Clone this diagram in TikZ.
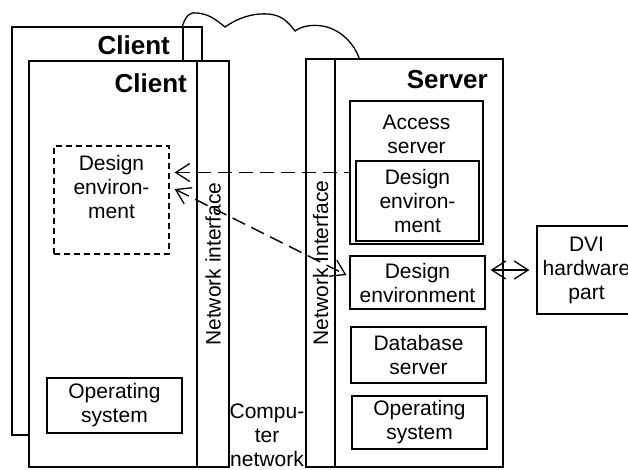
\documentclass[tikz,border=0pt]{standalone}
\usepackage{fontspec}
\setmainfont{Liberation Sans}
\usetikzlibrary{arrows.meta}

\tikzset{
  frame/.style={draw, fill=white, line width=1.5pt, inner sep=0pt},
  part/.style={draw, line width=1.2pt, inner sep=0pt, align=center},
  txt/.style={inner sep=0pt, align=center},
  title/.style={inner sep=0pt, anchor=base east, font=\fontsize{26}{30}\selectfont\bfseries},
  link/.style={line width=1.4pt, dash pattern=on 14pt off 7pt},
  barb/.tip={Straight Barb[length=14pt,width=18pt,line width=1.3pt]}
}

\begin{document}
\begin{tikzpicture}[x=1pt, y=-1pt, font=\fontsize{21}{24}\selectfont]
\useasboundingbox (0,0) rectangle (628,469);
% Clients
\node[frame, minimum width=171pt, minimum height=408pt] (bclient) at (97.5,231) {};
\node[frame, minimum width=19pt, minimum height=408pt] (bstrip) at (192.5,231) {};
\node[title] (bct) at (170,54) {Client};
\node[frame, minimum width=168pt, minimum height=406pt] (client) at (113,264) {};
\node[frame, rotate=90, minimum width=406pt, minimum height=32pt] (cstrip) at (213,264) {Network interface};
\node[title] (cct) at (187,92) {Client};
\node[part, line width=1.2pt, dash pattern=on 6pt off 4pt, minimum width=115pt, minimum height=108pt,
  label={[txt, yshift=13.5pt]center:{Design\\environ-\\ment}}] (cdes) at (111.5,200) {};
\node[part, minimum width=135pt, minimum height=55pt] (cos) at (114.5,405.5) {Operating\\system};
% Server
\node[frame, rotate=90, minimum width=408pt, minimum height=29pt] (sstrip) at (320.5,263) {Network Interface};
\node[frame, minimum width=168pt, minimum height=408pt] (srv) at (419,263) {};
\node[title] (svt) at (488,88) {Server};
\node[part, minimum width=133pt, minimum height=143pt,
  label={[txt, yshift=38pt]center:{Access\\server}}] (acc) at (416.5,172.5) {};
\node[part, minimum width=123pt, minimum height=80pt] (sde1) at (417.5,201) {Design\\environ-\\ment};
\node[part, minimum width=135pt, minimum height=53pt] (sde2) at (417.5,282.5) {Design\\environment};
\node[part, minimum width=135pt, minimum height=56pt] (dbs) at (418.5,355) {Database\\server};
\node[part, minimum width=135pt, minimum height=53pt] (sos) at (419.5,422.5) {Operating\\system};
% Hardware and network
\node[part, minimum width=99pt, minimum height=88pt] (dvi) at (586.5,270) {DVI\\hardware\\part};
\node[txt] (cnw) at (267,435) {Compu-\\ter\\network};
% Links
\draw[link, barb-, shorten <=5pt] (cdes.east |- acc.west) -- (acc.west);
\draw[link, barb-barb] ([xshift=5pt,yshift=11pt]cdes.east) -- ([xshift=-3pt,yshift=7.5pt]sde2.west);
\draw[line width=1.3pt, barb-barb, shorten <=5pt, shorten >=7pt] (sde2.east |- dvi.west) -- (dvi.west);
\draw[line width=1.3pt] (bstrip.north west) .. controls (186,16) and (189,12) .. (197,13)
  .. controls (207,14) and (213,17) .. (225,27) .. controls (238,18) and (252,13) .. (268,14)
  .. controls (282,15) and (288,22) .. (295,31) .. controls (303,25) and (316,24) .. (327,27)
  .. controls (343,32) and (354,44) .. ([xshift=25pt]srv.north west);
\end{tikzpicture}
\end{document}
